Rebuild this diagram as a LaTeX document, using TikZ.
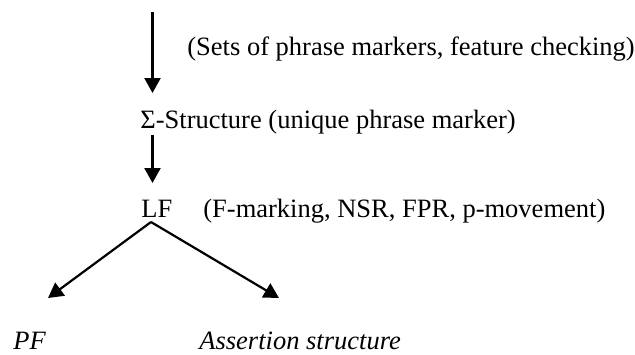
\documentclass[tikz,border=0pt]{standalone}
\usepackage{fontspec}
\setmainfont{Liberation Serif}
\usetikzlibrary{arrows.meta}
\begin{document}
\begin{tikzpicture}[x=0.5pt,y=-0.5pt,
  lbl/.style={anchor=base west,inner sep=0pt,font=\fontsize{13.25}{16}\selectfont},
  arr/.style={line width=1.1pt,-{Triangle[length=7.5pt,width=8pt]}}]
\path[use as bounding box,fill=white] (0,0) rectangle (635,354);
% texts
\node[lbl] (sets) at (187,55) {(Sets of phrase markers, feature checking)};
\node[lbl] (sig) at (140,128) {Σ-Structure (unique phrase marker)};
\node[lbl] (lf) at (141,217) {LF};
\node[lbl] (fm) at (203,217) {(F-marking, NSR, FPR, p-movement)};
\node[lbl,font=\fontsize{13.25}{16}\selectfont\itshape] (pf) at (13,349) {PF};
\node[lbl,font=\fontsize{13.25}{16}\selectfont\itshape] (as) at (199,349) {Assertion structure};
% connector end points
\coordinate (top) at (152.5,12);
\coordinate (a1) at (152.5,93);
\coordinate (b0) at (152.5,135);
\coordinate (b1) at (152.5,183);
\coordinate (apex) at (151,222);
\coordinate (pftip) at (48,298);
\coordinate (astip) at (279,298);
% connectors
\draw[arr] (top) -- (a1);
\draw[arr] (b0) -- (b1);
\draw[arr] (apex) -- (pftip);
\draw[arr] (apex) -- (astip);
\end{tikzpicture}
\end{document}
